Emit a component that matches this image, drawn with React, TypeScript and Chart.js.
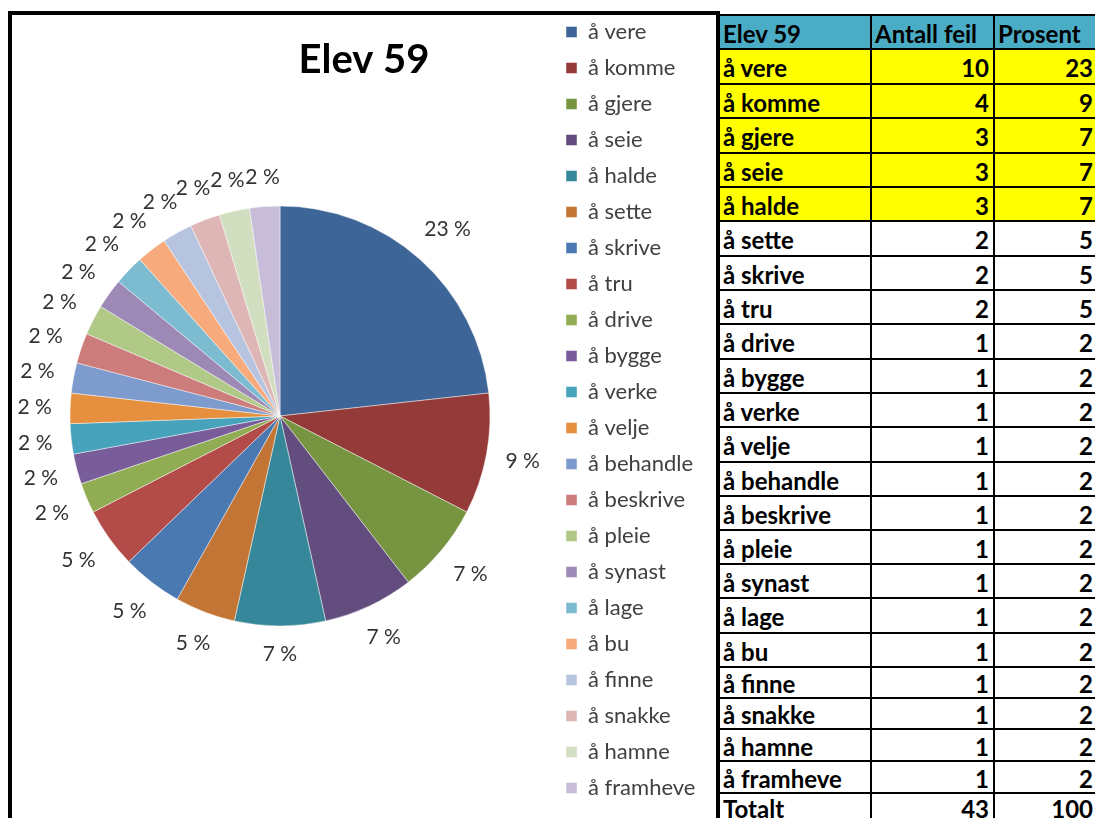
import React, { useEffect, useRef } from "react";
import { Chart, registerables } from "chart.js";

Chart.register(...registerables);

// Verbs and the number of errors made with each one
const verbs = [
  "å vere", "å komme", "å gjere", "å seie", "å halde", "å sette", "å skrive", "å tru",
  "å drive", "å bygge", "å verke", "å velje", "å behandle", "å beskrive", "å pleie",
  "å synast", "å lage", "å bu", "å finne", "å snakke", "å hamne", "å framheve",
];
const errors = [10, 4, 3, 3, 3, 2, 2, 2, 1, 1, 1, 1, 1, 1, 1, 1, 1, 1, 1, 1, 1, 1];
const sliceColors = [
  "#3D6597", "#943B39", "#779440", "#634D7E", "#37879A", "#C27535",
  "#4A79B2", "#B34B48", "#90AD53", "#785D9A", "#47A2BC", "#E68F3E",
  "#7E9BCD", "#CC7C7B", "#B0C987", "#9D89B6", "#7DBBD0", "#F7AA7B",
  "#B6C4E0", "#DEB6B5", "#D1DEBF", "#C7BDD8",
];
const highlightedRows = 5;
const chartTitle = "Elev 59";
const tableHeader = ["Elev 59", "Antall feil", "Prosent"];
const totalLabel = "Totalt";

const FAMILY = "Lato, 'Open Sans', sans-serif";
const CANVAS_W = 718;
const CANVAS_H = 830;
const PIE_CENTER_X = 280;

// y positions of the horizontal grid lines of the table
const rowLines = [15, 49, 84, 118, 153, 187, 221, 256, 290, 324, 359, 393, 427, 462, 496, 530, 564, 598, 633, 667, 698, 729, 761, 793, 822];
const colLines = [718, 870, 993, 1097];

const total = errors.reduce((a, b) => a + b, 0);
const pct = (v: number) => Math.round((v / total) * 100);

const percentLabels = {
  id: "percentLabels",
  afterDatasetsDraw(chart: any) {
    const { ctx } = chart;
    const meta = chart.getDatasetMeta(0);
    ctx.save();
    ctx.font = `21px ${FAMILY}`;
    ctx.fillStyle = "#333333";
    ctx.textAlign = "center";
    ctx.textBaseline = "middle";
    meta.data.forEach((arc: any, i: number) => {
      const { x, y, startAngle, endAngle, outerRadius } = arc.getProps(
        ["x", "y", "startAngle", "endAngle", "outerRadius"],
        true
      );
      const mid = (startAngle + endAngle) / 2;
      const text = `${pct(errors[i])} %`;
      const w = ctx.measureText(text).width;
      const cos = Math.cos(mid);
      const sin = Math.sin(mid);
      const ext = (Math.abs(cos) * w) / 2 + (Math.abs(sin) * 20) / 2;
      const d = outerRadius + 18 + ext;
      ctx.fillText(text, x + cos * d, y + sin * d);
    });
    ctx.restore();
  },
};

const titleDrawer = {
  id: "titleDrawer",
  afterDraw(chart: any) {
    const { ctx } = chart;
    ctx.save();
    ctx.font = `bold 40px ${FAMILY}`;
    ctx.fillStyle = "#000000";
    ctx.textAlign = "center";
    ctx.textBaseline = "middle";
    ctx.fillText(chartTitle, 364, 60);
    ctx.restore();
  },
};

function PieChart() {
  const ref = useRef<HTMLCanvasElement | null>(null);
  useEffect(() => {
    const canvas = ref.current;
    if (!canvas) return;
    const legendFont = 22;
    const legendPad = 14;
    const box = 11;
    const mctx = canvas.getContext("2d")!;
    mctx.font = `normal ${legendFont}px ${FAMILY}`;
    const maxText = Math.max(...verbs.map((v) => mctx.measureText(v).width));
    const legendWidth = legendPad + box + legendFont / 2 + maxText + 10;
    const legendLeft = 566 - legendPad;
    const padRight = CANVAS_W - legendLeft - legendWidth;

    const chart = new Chart(canvas, {
      type: "pie",
      data: {
        labels: verbs,
        datasets: [
          {
            data: errors,
            backgroundColor: sliceColors,
            borderColor: "rgba(255,255,255,0.45)",
            borderWidth: 1,
            radius: 210,
          },
        ],
      },
      options: {
        responsive: false,
        animation: false,
        layout: { padding: { left: 2 * PIE_CENTER_X - legendLeft, right: padRight, top: 7, bottom: 5 } },
        plugins: {
          legend: {
            position: "right",
            align: "start",
            labels: {
              boxWidth: box,
              boxHeight: box,
              padding: legendPad,
              color: "#404040",
              font: { family: FAMILY, size: legendFont },
            },
          },
          title: { display: false },
          tooltip: { enabled: false },
        },
      },
      plugins: [percentLabels, titleDrawer],
    });
    return () => chart.destroy();
  }, []);
  return (
    <canvas
      ref={ref}
      width={CANVAS_W}
      height={CANVAS_H}
      style={{ position: "absolute", left: 0, top: 0, width: CANVAS_W, height: CANVAS_H }}
    />
  );
}

function ErrorTable() {
  const rows: { cells: (string | number)[]; bg: string }[] = [];
  rows.push({ cells: tableHeader, bg: "#4BACC6" });
  verbs.forEach((v, i) => {
    rows.push({ cells: [v, errors[i], pct(errors[i])], bg: i < highlightedRows ? "#FFFF00" : "#FFFFFF" });
  });
  rows.push({ cells: [totalLabel, total, pct(total)], bg: "#FFFFFF" });

  return (
    <div style={{ position: "absolute", left: 0, top: 0 }}>
      {rows.map((r, ri) => {
        const top = rowLines[ri];
        const h = rowLines[ri + 1] - rowLines[ri];
        return r.cells.map((c, ci) => {
          const left = colLines[ci];
          const w = colLines[ci + 1] - colLines[ci];
          const isHeader = ri === 0;
          const alignRight = !isHeader && ci > 0;
          return (
            <div
              key={`${ri}-${ci}`}
              style={{
                position: "absolute",
                left,
                top: top - 1,
                width: w,
                height: h,
                boxSizing: "border-box",
                background: r.bg,
                borderTop: "2px solid #000",
                borderLeft: "2px solid #000",
                display: "flex",
                alignItems: "center",
                justifyContent: alignRight ? "flex-end" : "flex-start",
                padding: alignRight ? "2px 4px 0 0" : "2px 0 0 3px",
                font: `bold 24px ${FAMILY}`,
                color: "#000",
                whiteSpace: "nowrap",
                overflow: "hidden",
              }}
            >
              {c}
            </div>
          );
        });
      })}
    </div>
  );
}

export default function App() {
  return (
    <div
      style={{
        position: "fixed",
        left: 0,
        top: 0,
        width: 1095,
        height: 818,
        overflow: "hidden",
        background: "#FFFFFF",
      }}
    >
      <div
        style={{
          position: "absolute",
          left: 8,
          top: 11,
          width: 712,
          height: 900,
          boxSizing: "border-box",
          border: "4px solid #000",
        }}
      />
      <PieChart />
      <ErrorTable />
    </div>
  );
}
